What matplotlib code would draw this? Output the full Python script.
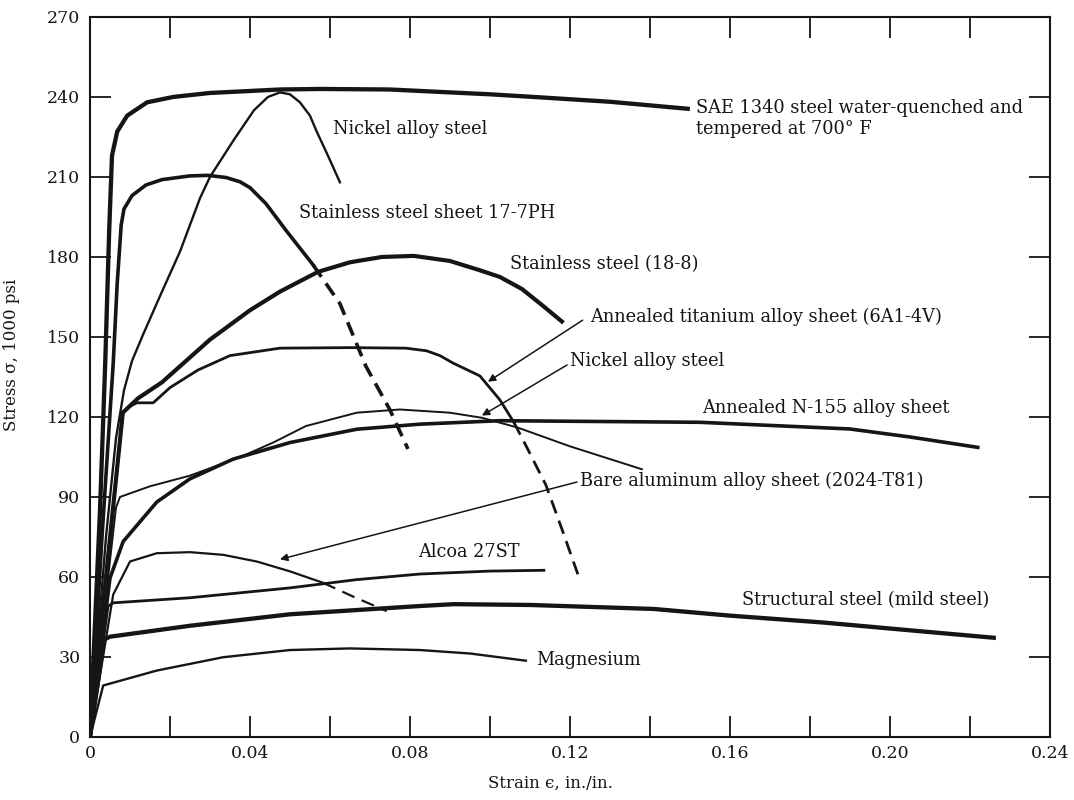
import matplotlib
matplotlib.use("Agg")
import matplotlib.pyplot as plt
from matplotlib.ticker import MultipleLocator, FuncFormatter

plt.rcParams["font.family"] = ["DejaVu Serif"]
plt.rcParams["mathtext.fontset"] = "dejavuserif"

INK = "#151515"

# strain (in./in.) and stress (1000 psi)
sae_x = [0, 0.0025, 0.0038, 0.0048, 0.0055, 0.0068, 0.0093, 0.0143, 0.0208, 0.03, 0.0475,
         0.0575, 0.075, 0.086, 0.1, 0.111, 0.13, 0.15]
sae_y = [0, 85, 140, 190, 218, 227, 233, 238, 240, 241.5, 242.8, 243, 242.8, 242, 241, 240, 238.2, 235.5]

ni_hi_x = [0, 0.004, 0.0065, 0.0085, 0.0105, 0.0133, 0.018, 0.0225, 0.0275, 0.03, 0.036, 0.041,
           0.0445, 0.0475, 0.05, 0.0525, 0.055, 0.0567, 0.0595, 0.0625]
ni_hi_y = [0, 75, 112, 130, 141, 151, 167, 182, 202, 210, 224, 235, 240, 241.7, 241, 238, 233, 227, 218, 208]

ph_x = [0, 0.003, 0.0058, 0.0068, 0.0078, 0.0085, 0.0105, 0.014, 0.018, 0.025, 0.0295, 0.034,
        0.0375, 0.04, 0.044, 0.049, 0.0558]
ph_y = [0, 75, 140, 170, 192, 198, 203, 207, 209, 210.4, 210.6, 209.8, 208.2, 206, 200, 190, 177]
ph_dash_x = [0.0558, 0.0625, 0.069, 0.075, 0.0795]
ph_dash_y = [177, 162.5, 139, 122.7, 108]

ss_x = [0, 0.004, 0.0082, 0.012, 0.018, 0.024, 0.03, 0.04, 0.0475, 0.057, 0.065, 0.073, 0.081,
        0.09, 0.0975, 0.1025, 0.108, 0.113, 0.118]
ss_y = [0, 60, 121.6, 127, 133, 141, 149, 160, 167, 174.4, 178, 180, 180.4, 178.5, 175, 172.5,
        168, 162, 155.8]

ti_x = [0, 0.0082, 0.01, 0.0117, 0.0158, 0.02, 0.027, 0.035, 0.0475, 0.065, 0.079, 0.0842,
        0.0875, 0.0908, 0.0975, 0.1025, 0.106]
ti_y = [0, 121.6, 124, 125.3, 125.3, 131, 137.6, 143, 145.8, 146, 145.8, 144.8, 143, 140.2,
        135.4, 126.4, 118]
ti_dash_x = [0.106, 0.109, 0.114, 0.118, 0.122]
ti_dash_y = [118, 109.3, 94.5, 78, 61]

ni_lo_x = [0, 0.0065, 0.0075, 0.015, 0.025, 0.0375, 0.0458, 0.054, 0.0667, 0.0775, 0.09, 0.098,
           0.107, 0.12, 0.138]
ni_lo_y = [0, 86, 90, 94, 98, 104.9, 110.4, 116.6, 121.6, 122.8, 121.6, 119.7, 116, 109, 100.4]

n155_x = [0, 0.005, 0.0083, 0.0167, 0.025, 0.0358, 0.05, 0.0667, 0.0825, 0.1025, 0.1525, 0.19,
          0.205, 0.222]
n155_y = [0, 59.6, 73.3, 88.1, 96.8, 104.2, 110.4, 115.4, 117.3, 118.6, 118, 115.5, 112.5, 108.6]

al_x = [0, 0.0058, 0.01, 0.0167, 0.025, 0.0333, 0.0417, 0.05, 0.0583]
al_y = [0, 53.4, 65.8, 68.9, 69.3, 68.3, 65.8, 62.1, 57.8]
al_dash_x = [0.0583, 0.066, 0.0742]
al_dash_y = [57.8, 52.5, 47.2]

alcoa_x = [0, 0.0045, 0.0058, 0.025, 0.05, 0.0667, 0.0825, 0.1, 0.1135]
alcoa_y = [0, 49, 50.3, 52.2, 55.9, 59, 61.1, 62.2, 62.5]

mild_x = [0, 0.0035, 0.005, 0.025, 0.05, 0.0825, 0.091, 0.11, 0.141, 0.16, 0.1835, 0.205, 0.226]
mild_y = [0, 36.5, 37.6, 41.7, 46, 49.1, 49.8, 49.5, 48, 45.5, 42.9, 40, 37.2]

mg_x = [0, 0.0033, 0.0167, 0.0333, 0.05, 0.065, 0.0825, 0.095, 0.109]
mg_y = [0, 19.3, 24.9, 29.9, 32.6, 33.2, 32.6, 31.3, 28.6]

# (text, x, y) label positions
labels = [
    ("Nickel alloy steel", 0.0608, 228),
    ("Stainless steel sheet 17-7PH", 0.0523, 196.3),
    ("Stainless steel (18-8)", 0.105, 177.2),
    ("Annealed titanium alloy sheet (6A1-4V)", 0.125, 157.6),
    ("Nickel alloy steel", 0.12, 140.8),
    ("Annealed N-155 alloy sheet", 0.153, 123.4),
    ("Bare aluminum alloy sheet (2024-T81)", 0.1225, 96.2),
    ("Alcoa 27ST", 0.082, 69.3),
    ("Structural steel (mild steel)", 0.163, 51.2),
    ("Magnesium", 0.1115, 28.8),
    ("SAE 1340 steel water-quenched and\ntempered at 700° F", 0.1515, 232),
]
# pointer arrows: (start, tip)
pointers = [
    ((0.1232, 156.3), (0.0995, 133.2)),
    ((0.1193, 139.5), (0.098, 120.5)),
    ((0.1218, 95.6), (0.0475, 66.6)),
]

fig = plt.figure(figsize=(10.74, 8), dpi=100)
ax = fig.add_axes([0.0838, 0.0788, 0.8936, 0.9000])

ax.plot(sae_x, sae_y, color=INK, lw=3.1, solid_capstyle="butt")
ax.plot(ni_hi_x, ni_hi_y, color=INK, lw=1.7)
ax.plot(ph_x, ph_y, color=INK, lw=2.6)
ax.plot(ph_dash_x, ph_dash_y, color=INK, lw=2.6, ls=(0, (4, 2.2)))
ax.plot(ss_x, ss_y, color=INK, lw=3.0)
ax.plot(ti_x, ti_y, color=INK, lw=2.0)
ax.plot(ti_dash_x, ti_dash_y, color=INK, lw=2.0, ls=(0, (5, 2.8)))
ax.plot(ni_lo_x, ni_lo_y, color=INK, lw=1.4)
ax.plot(n155_x, n155_y, color=INK, lw=2.6)
ax.plot(al_x, al_y, color=INK, lw=1.6)
ax.plot(al_dash_x, al_dash_y, color=INK, lw=1.6, ls=(0, (6, 3.5)))
ax.plot(alcoa_x, alcoa_y, color=INK, lw=2.0)
ax.plot(mild_x, mild_y, color=INK, lw=3.1)
ax.plot(mg_x, mg_y, color=INK, lw=1.7)

for text, x, y in labels:
    ax.text(x, y, text, ha="left", va="center", fontsize=12.8, color=INK, linespacing=1.25)

for start, tip in pointers:
    ax.annotate("", xy=tip, xytext=start,
                arrowprops=dict(arrowstyle="-|>", lw=1.1, color=INK, mutation_scale=11,
                                shrinkA=0, shrinkB=0))

ax.set_xlim(0, 0.24)
ax.set_ylim(0, 270)
ax.xaxis.set_major_locator(MultipleLocator(0.04))
ax.xaxis.set_minor_locator(MultipleLocator(0.02))
ax.yaxis.set_major_locator(MultipleLocator(30))
ax.xaxis.set_major_formatter(FuncFormatter(lambda v, pos: "0" if abs(v) < 1e-9 else f"{v:.2f}"))
ax.tick_params(which="both", direction="in", length=15, width=1.3, color=INK,
               top=True, right=True, labelsize=12.5, labelcolor=INK)
ax.tick_params(axis="x", pad=6)
ax.tick_params(axis="y", pad=7)
for s in ax.spines.values():
    s.set_linewidth(1.5)
    s.set_color(INK)

ax.set_xlabel("Strain \u03f5, in./in.", fontsize=12, color=INK)
ax.set_ylabel("Stress \u03c3, 1000 psi", fontsize=12, color=INK)
ax.xaxis.set_label_coords(0.48, -0.052)
ax.yaxis.set_label_coords(-0.073, 0.53)

fig.savefig("out.png", dpi=100)
